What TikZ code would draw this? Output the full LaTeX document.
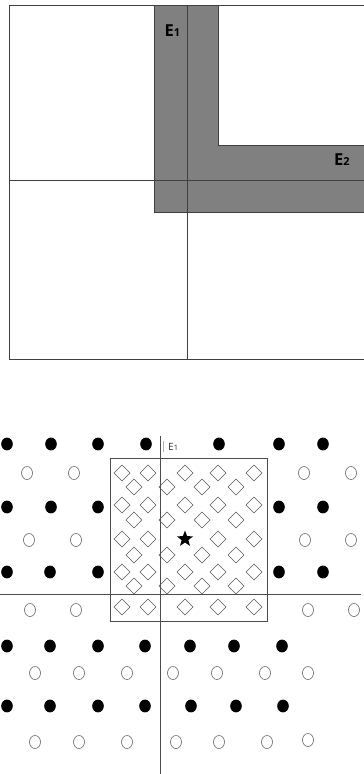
\documentclass[tikz,border=0pt]{standalone}
\usepackage{fontspec}
\setmainfont{Open Sans}
\usetikzlibrary{shapes.geometric}
\begin{document}
\begin{tikzpicture}[x=1pt,y=-1pt,
  frameline/.style={draw=black!75,line width=0.9pt},
  axisline/.style={draw=black!70,line width=0.8pt},
  dia/.style={draw=black!65,line width=0.6pt},
  fdot/.style={fill=black},
  odot/.style={draw=black!60,line width=0.6pt,fill=white},
  biglabel/.style={font=\bfseries\fontsize{16.5}{18}\selectfont,inner sep=0pt},
  smalllabel/.style={font=\fontsize{10}{12}\selectfont,text=black!80,inner sep=0pt}]
\useasboundingbox (0,0) rectangle (364,774);
\fill[white] (0,0) rectangle (364,774);
% ---------- top panel ----------
\fill[black!50] (154.3,5) -- (218.7,5) -- (218.7,145.3) -- (364,145.3) -- (364,212) -- (154.3,212) -- cycle;
\draw[frameline] (154.3,5) -- (154.3,212) -- (364,212);
\draw[frameline] (218.7,5) -- (218.7,145.3) -- (364,145.3);
\draw[frameline] (364,5) -- (9.5,5) -- (9.5,359.5) -- (364,359.5);
\draw[frameline] (187,5) -- (187,359.5);
\draw[frameline] (9.5,180.3) -- (364,180.3);
\node[biglabel] (e1top) at (172.5,31) {E{\fontsize{11}{12}\selectfont 1}};
\node[biglabel] (e2top) at (342,160) {E{\fontsize{11}{12}\selectfont 2}};
% ---------- bottom panel ----------
\draw[axisline] (0,594) -- (361,594);
\draw[axisline] (160.5,436) -- (160.5,774);
\draw[black!30,line width=0.4pt] (163.5,441) -- (163.5,452);
\node[smalllabel,anchor=west] (e1bot) at (168,446.5) {E{\fontsize{7.5}{9}\selectfont 1}};
\draw[axisline] (110,458) rectangle (267,621);
% diamonds
\foreach \y in {473,505,572,607}
  \foreach \x in {122,148,185,218,254}
    \draw[dia] ({\x-8},\y) -- (\x,{\y-8}) -- ({\x+8},\y) -- (\x,{\y+8}) -- cycle;
\foreach \x in {122,148,218,254}
  \draw[dia] ({\x-8},539) -- (\x,531) -- ({\x+8},539) -- (\x,547) -- cycle;
\foreach \y in {487,520,555,586}
  \foreach \x in {134,167,202,236}
    \draw[dia] ({\x-8},\y) -- (\x,{\y-8}) -- ({\x+8},\y) -- (\x,{\y+8}) -- cycle;
\node[star,star points=5,star point ratio=2.4,fill=black,minimum size=17pt,inner sep=0pt] (centerstar) at (185,539) {};
% filled dots
\foreach \x/\y in {7/444,51/444,98/444,146/444,219/444,279/444,323/444,
  7/507,51/507,98/507,279/507,323/507,
  7/572,50/572,98/572,279/572,323/572,
  7/646,50/646,98/646,145/646,190/646,234/646,282/646,
  7/706,50/706,98/706,145/706,191/706,236/706,283/706}
  \fill[fdot] (\x,\y) ellipse [x radius=5.8pt,y radius=6.4pt];
% open circles
\foreach \x/\y in {27/473,74/473,304/473,351/473,
  29/540,76/540,305/540,351/540,
  30/610,76/610,308/610,354/610,
  35/673,79/673,127/673,173/673,217/673,265/673,308/673,
  35/742,79/742,127/742,176/742,219/742,267/742,308/740}
  \draw[odot] (\x,\y) ellipse [x radius=5.5pt,y radius=6.5pt];
\end{tikzpicture}
\end{document}
